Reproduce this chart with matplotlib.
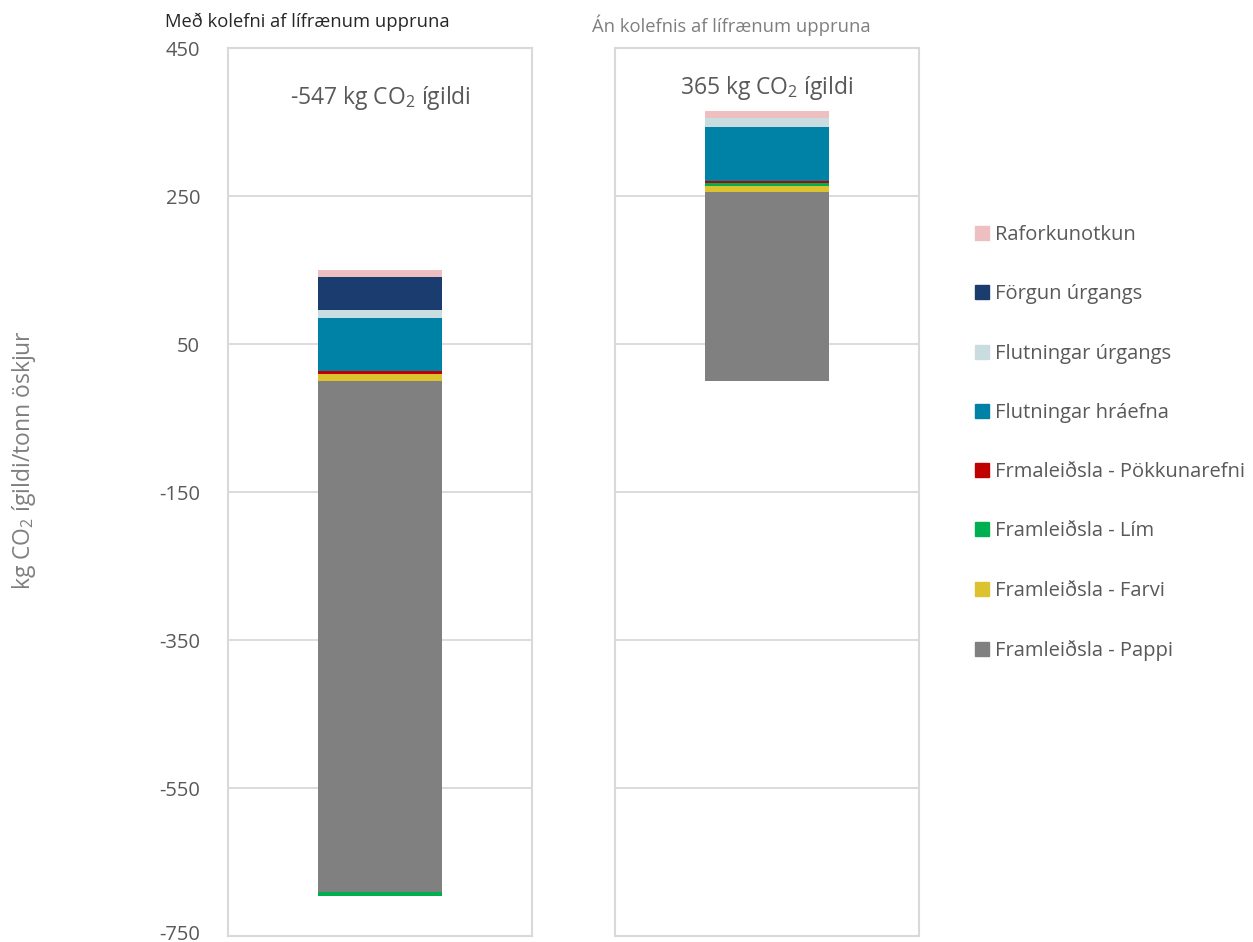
import numpy as np
import matplotlib
matplotlib.use('Agg')
import matplotlib.pyplot as plt
import matplotlib.patches as mpatches
import matplotlib.transforms as mtransforms

plt.rcParams['font.family'] = ['Open Sans', 'DejaVu Sans']
plt.rcParams['mathtext.fontset'] = 'custom'
plt.rcParams['mathtext.rm'] = 'Open Sans'
plt.rcParams['mathtext.it'] = 'Open Sans'
plt.rcParams['axes.unicode_minus'] = False

# stacking order bottom -> top
categories = ['Framleiðsla - Pappi', 'Framleiðsla - Farvi', 'Framleiðsla - Lím',
              'Frmaleiðsla - Pökkunarefni', 'Flutningar hráefna', 'Flutningar úrgangs',
              'Förgun úrgangs', 'Raforkunotkun']
colors = ['#808080', '#dbc22e', '#00b050', '#c00000', '#0081a6', '#c9dde0',
          '#1b3c6e', '#edbfc0']

with_bio = [-691, 9.5, -5.4, 4, 71.6, 10.8, 44.6, 9.5]
without_bio = [255, 8, 4, 3, 73, 12, 0, 10]

panel_titles = ['Með kolefni af lífrænum uppruna', 'Án kolefnis af lífrænum uppruna']
totals_text = ['-547 kg CO$_2$ ígildi', '365 kg CO$_2$ ígildi']
totals_y = [382, 396]
yticks = [450, 250, 50, -150, -350, -550, -750]

W, H = 1253, 942
fig = plt.figure(figsize=(W / 100, H / 100), dpi=100)

grid_c = '#d9d9d9'
txt_c = '#595959'


def px_axes(x0, x1, y0, y1):
    return fig.add_axes([x0 / W, 1 - y1 / H, (x1 - x0) / W, (y1 - y0) / H])


def stacked(ax, values):
    pos, neg = 0.0, 0.0
    for cat, v, c in zip(categories, values, colors):
        if v >= 0:
            ax.bar(0, v, bottom=pos, width=0.405, color=c, label=cat)
            pos += v
        else:
            ax.bar(0, v, bottom=neg, width=0.405, color=c, label=cat)
            neg += v


axes = [px_axes(228, 532, 48, 936), px_axes(615, 919, 48, 936)]
for i, (ax, vals) in enumerate(zip(axes, [with_bio, without_bio])):
    stacked(ax, vals)
    ax.set_xlim(-0.5, 0.5)
    ax.set_ylim(-750, 450)
    ax.set_yticks(yticks)
    ax.set_xticks([])
    ax.grid(axis='y', color=grid_c, linewidth=1.3)
    ax.set_axisbelow(True)
    for s in ax.spines.values():
        s.set_color(grid_c)
        s.set_linewidth(1.5)
    ax.tick_params(axis='y', length=0, pad=20, labelsize=14.5, labelcolor=txt_c)
    if i == 1:
        ax.set_yticklabels([])
    ax.text(0, totals_y[i], totals_text[i], ha='center', va='center', fontsize=16.5, color=txt_c)

# keep the bottom tick label inside the picture
lowest = axes[0].get_yticklabels()[-1]
lowest.set_transform(lowest.get_transform() + mtransforms.ScaledTranslation(0, 4 / 100, fig.dpi_scale_trans))

axes[0].set_ylabel('kg CO$_2$ ígildi/tonn öskjur', fontsize=16.5, color='#7f7f7f')
axes[0].yaxis.set_label_coords(-190 / 304, (936 - 460) / 888)

fig.text(165 / W, 1 - 22 / H, panel_titles[0], fontsize=13.2, color='#262626', va='center', ha='left')
fig.text(592 / W, 1 - 25 / H, panel_titles[1], fontsize=13.2, color='#7f7f7f', va='center', ha='left')

handles = [mpatches.Patch(color=c, label=l) for c, l in zip(colors, categories)][::-1]
fig.legend(handles=handles, loc='upper left', bbox_to_anchor=(957 / W, 1 - 207 / H),
           frameon=False, fontsize=14.5, labelcolor=txt_c, labelspacing=1.95,
           handlelength=0.7, handleheight=0.7, handletextpad=0.3)

fig.savefig('out.png', dpi=100)
